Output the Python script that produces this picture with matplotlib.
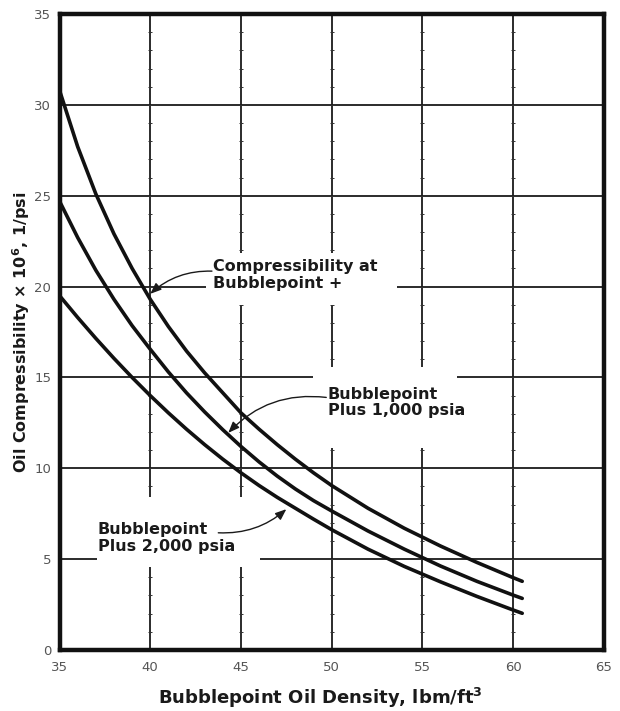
import matplotlib
matplotlib.use("Agg")
import matplotlib.pyplot as plt
from matplotlib.patches import Rectangle

plt.rcParams['font.family'] = ['DejaVu Sans']
plt.rcParams['mathtext.fontset'] = 'dejavusans'
plt.rcParams['mathtext.default'] = 'bf'

# Bubblepoint oil density, lbm/ft3
density = [35, 36, 37, 38, 39, 40, 41, 42, 43, 44, 45, 46, 47, 48, 49, 50,
           52, 54, 56, 58, 60, 60.5]

# Oil compressibility x 1e6, 1/psi
c_bubblepoint = [30.8, 27.7, 25.1, 22.9, 21.0, 19.3, 17.8, 16.45, 15.25, 14.15,
                 13.05, 12.15, 11.3, 10.5, 9.75, 9.05, 7.8, 6.7, 5.72, 4.82,
                 3.98, 3.78]
c_plus_1000 = [24.7, 22.7, 20.9, 19.3, 17.85, 16.55, 15.3, 14.15, 13.1, 12.12,
               11.2, 10.35, 9.57, 8.86, 8.22, 7.65, 6.55, 5.55, 4.62, 3.78,
               3.02, 2.84]
c_plus_2000 = [19.5, 18.3, 17.15, 16.05, 15.0, 14.0, 13.05, 12.15, 11.3, 10.5,
               9.75, 9.05, 8.4, 7.8, 7.2, 6.62, 5.55, 4.6, 3.75, 2.95, 2.2,
               2.02]

x_ticks = [35, 40, 45, 50, 55, 60, 65]
y_ticks = [0, 5, 10, 15, 20, 25, 30, 35]

fig = plt.figure(figsize=(6.2, 7.11), dpi=100)
ax = fig.add_axes([0.096, 0.0858, 0.878, 0.8945])
ax.set_xlim(35, 65)
ax.set_ylim(0, 35)
ax.set_xticks(x_ticks)
ax.set_yticks(y_ticks)
ax.tick_params(length=0, labelsize=9.5, colors='#555555', pad=8)
ax.tick_params(axis='y', pad=6)

for s in ax.spines.values():
    s.set_linewidth(3.2)
    s.set_color('#111111')
    s.set_zorder(5)

# grid with small graduation marks on the vertical lines
for xv in x_ticks[1:-1]:
    ax.axvline(xv, color='#1a1a1a', lw=1.3, zorder=0.5)
    ax.plot([xv] * 34, range(1, 35), ls='none', marker='_', ms=3,
            mew=0.7, color='#333333', zorder=0.6)
for yv in y_ticks[1:-1]:
    ax.axhline(yv, color='#1a1a1a', lw=1.3, zorder=0.5)

# cleared areas behind the curve labels
for (x0, x1, y0, y1) in [(43.1, 53.6, 19.0, 21.85),
                         (48.97, 56.9, 11.1, 15.6),
                         (37.07, 46.05, 4.57, 8.42)]:
    ax.add_patch(Rectangle((x0, y0), x1 - x0, y1 - y0, facecolor='white',
                           edgecolor='none', zorder=1))

for series in (c_bubblepoint, c_plus_1000, c_plus_2000):
    ax.plot(density, series, color='#111111', lw=2.6, solid_capstyle='round',
            solid_joinstyle='round', zorder=2)

txt = dict(fontsize=11.5, fontweight='bold', color='#1a1a1a', ha='left',
           va='top', linespacing=1.15, zorder=3)
ax.text(43.46, 21.5, 'Compressibility at\nBubblepoint +', **txt)
ax.text(49.79, 14.5, 'Bubblepoint\nPlus 1,000 psia', **txt)
ax.text(37.12, 7.05, 'Bubblepoint\nPlus 2,000 psia', **txt)

arrow = dict(arrowstyle='-|>,head_length=0.55,head_width=0.22', lw=1.0,
             color='#1a1a1a', shrinkA=0, shrinkB=0, mutation_scale=12)
ax.annotate('', xy=(40.0, 19.6), xytext=(43.4, 20.85),
            arrowprops=dict(connectionstyle='arc3,rad=0.2', **arrow), zorder=3)
ax.annotate('', xy=(44.3, 11.95), xytext=(49.7, 13.9),
            arrowprops=dict(connectionstyle='arc3,rad=0.25', **arrow), zorder=3)
ax.annotate('', xy=(47.5, 7.75), xytext=(43.75, 6.45),
            arrowprops=dict(connectionstyle='arc3,rad=0.2', **arrow), zorder=3)

ax.set_ylabel('Oil Compressibility × 10$^{6}$, 1/psi', fontsize=11.5,
              fontweight='bold', color='#1a1a1a')
ax.yaxis.set_label_coords(-0.05, 0.5)
ax.set_xlabel('Bubblepoint Oil Density, lbm/ft$^{3}$', fontsize=13,
              fontweight='bold', color='#1a1a1a')
ax.xaxis.set_label_coords(0.48, -0.056)

fig.savefig('out.png', dpi=100)
